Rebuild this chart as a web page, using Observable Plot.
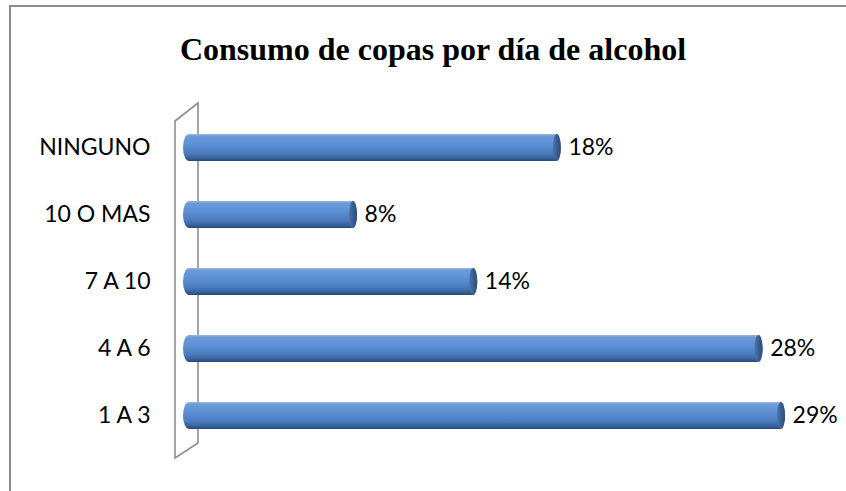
<!DOCTYPE html>
<html>
<head>
<meta charset="utf-8">
<script src="https://cdn.jsdelivr.net/npm/d3@7"></script>
<script src="https://cdn.jsdelivr.net/npm/@observablehq/plot@0.6"></script>
<style>
  body { margin: 0; background: #fff; }
  #wrap { position: relative; width: 846px; height: 491px; overflow: hidden; background: #fff; }
  #border { position: absolute; left: 9px; top: 5px; width: 845px; height: 495px;
            border-left: 2px solid #8c8c8c; border-top: 2px solid #8c8c8c; z-index: 2; pointer-events: none; }
  #title { position: absolute; left: 20px; top: 33px; width: 826px; text-align: center;
           font-family: "Liberation Serif", "Times New Roman", serif; font-weight: bold;
           font-size: 32px; line-height: 1; color: #000; }
  #chart { position: absolute; left: 0; top: 90px; }
</style>
</head>
<body>
<div id="wrap">
  <div id="border"></div>
  <div id="title">Consumo de copas por día de alcohol</div>
  <div id="chart"></div>
</div>
<script>
// Categories listed top to bottom as they appear in the chart
const categories = ["NINGUNO", "10 O MAS", "7 A 10", "4 A 6", "1 A 3"];
const values = [18.1, 8.1, 14.0, 28.0, 29.1];
const valueLabels = ["18%", "8%", "14%", "28%", "29%"];

const data = categories.map((c, i) => ({cat: c, value: values[i], label: valueLabels[i]}));

const plot = Plot.plot({
  width: 846,
  height: 401,
  marginLeft: 192,
  marginRight: 42.6,
  marginTop: 29,
  marginBottom: 47,
  style: {fontFamily: "Lato", fontSize: "23px", color: "#000", background: "transparent", overflow: "visible"},
  x: {domain: [0, 30], axis: null},
  y: {domain: categories, paddingInner: 0.6, paddingOuter: 0.2, label: null, tickSize: 0, tickPadding: 42},
  marks: [
    Plot.barX(data, {y: "cat", x1: 0, x2: "value", insetLeft: -9, fill: "url(#cyl)", rx: 6, ry: 13.5}),
    Plot.barX(data, {y: "cat", x1: d => d.value - 0.4, x2: "value", fill: "url(#cap)", rx: 4, ry: 13.5}),
    Plot.text(data, {y: "cat", x: "value", text: "label", dx: 7, textAnchor: "start", fontSize: 23, fill: "#000"})
  ]
});

const svg = d3.select(plot);
const defs = svg.insert("defs", ":first-child");
const g1 = defs.append("linearGradient").attr("id", "cyl").attr("x1", 0).attr("y1", 0).attr("x2", 0).attr("y2", 1);
[[0, "#9ab8e0"], [0.08, "#6d9bd8"], [0.4, "#5b8fd4"], [0.72, "#4a7bbd"], [0.9, "#36609a"], [1, "#27466f"]]
  .forEach(([o, c]) => g1.append("stop").attr("offset", o).attr("stop-color", c));
const g2 = defs.append("linearGradient").attr("id", "cap").attr("x1", 0).attr("y1", 0).attr("x2", 1).attr("y2", 0);
[[0, "#4f77ad"], [0.5, "#3a5e90"], [1, "#2e4d7a"]]
  .forEach(([o, c]) => g2.append("stop").attr("offset", o).attr("stop-color", c));

// 3D back wall decoration, placed from the scales' ranges
const xs = plot.scale("x"), ys = plot.scale("y");
const x0 = xs.apply(0);
const [r0, r1] = ys.range;
const left = x0 - 17, right = x0 + 6;
svg.insert("path", "defs + *")
  .attr("d", `M${left},${r0 + 2}L${right},${r0 - 16}L${right},${r1 - 1}L${left},${r1 + 14}Z`)
  .attr("fill", "none").attr("stroke", "#8f8f8f").attr("stroke-width", 1.6);

document.getElementById("chart").appendChild(plot);
</script>
</body>
</html>
